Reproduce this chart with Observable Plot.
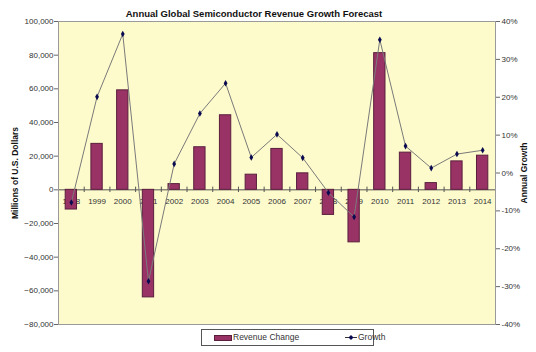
<!DOCTYPE html>
<html>
<head>
<meta charset="utf-8">
<script src="https://cdn.jsdelivr.net/npm/d3@7"></script>
<script src="https://cdn.jsdelivr.net/npm/@observablehq/plot@0.6"></script>
<style>
  html, body { margin: 0; padding: 0; background: #ffffff; }
  #wrap { position: relative; width: 536px; height: 352px; font-family: "Liberation Sans", Arial, sans-serif; }
  #legend { position: absolute; left: 201px; top: 329px; width: 171px; height: 15px; border: 1px solid #555; background: #fff; font-size: 8.5px; color: #333; }
  #legend .sw { position: absolute; left: 12px; top: 5px; width: 16px; height: 4px; background: #993366; border: 1px solid #5a1f3d; }
  #legend .t1 { position: absolute; left: 31px; top: 2px; line-height: 11px; }
  #legend .ln { position: absolute; left: 143px; top: 2px; }
  #legend .t2 { position: absolute; left: 156px; top: 2px; line-height: 11px; }
</style>
</head>
<body>
<div id="wrap"></div>
<script>
const years = [1998, 1999, 2000, 2001, 2002, 2003, 2004, 2005, 2006, 2007, 2008, 2009, 2010, 2011, 2012, 2013, 2014];
const revenueChange = [-11700, 27300, 59100, -63900, 3400, 25300, 44300, 9000, 24300, 9800, -14900, -31200, 81200, 22100, 4000, 16900, 20300];
const growthPct = [-7.8, 20.1, 36.7, -28.6, 2.4, 15.7, 23.7, 4.1, 10.2, 4.0, -5.2, -11.6, 35.2, 7.1, 1.3, 5.0, 6.0];
const leftTicks = [-80000, -60000, -40000, -20000, 0, 20000, 40000, 60000, 80000, 100000];
const rightTicks = [-40, -30, -20, -10, 0, 10, 20, 30, 40];
const titleText = "Annual Global Semiconductor Revenue Growth Forecast";
const leftLabel = "Millions of U.S. Dollars";
const rightLabel = "Annual Growth";

// right axis (-40%..40%) maps onto left axis (-80,000..100,000)
const g2y = g => 10000 + 2250 * g;
const y2g = v => (v - 10000) / 2250;

const data = years.map((year, i) => ({year, change: revenueChange[i], growth: growthPct[i]}));
const bounds = years.slice(0, -1).map(y => y + 0.5);

const plot = Plot.plot({
  width: 536,
  height: 352,
  marginLeft: 58,
  marginRight: 41,
  marginTop: 21,
  marginBottom: 28,
  style: {fontFamily: "'Liberation Sans', Arial, sans-serif", fontSize: "8px", color: "#333", background: "transparent"},
  x: {type: "linear", domain: [1997.5, 2014.5], axis: null},
  y: {domain: [-80000, 100000], axis: null},
  marks: [
    Plot.frame({fill: "#fdfacb", stroke: null}),
    Plot.ruleY([0], {stroke: "#555", strokeWidth: 1}),
    Plot.ruleX(bounds, {x: d => d, y1: -1600, y2: 1600, stroke: "#555"}),
    Plot.text(years, {x: d => d, y: 0, dy: 12, text: d => String(d), fill: "#333", fontSize: 8}),
    Plot.rectY(data, {x1: d => d.year - 0.22, x2: d => d.year + 0.22, y1: 0, y2: "change", fill: "#993366", stroke: "#5a1f3d", strokeWidth: 1}),
    Plot.line(data, {x: "year", y: d => g2y(d.growth), stroke: "#7a7a7a", strokeWidth: 1}),
    Plot.dot(data, {x: "year", y: d => g2y(d.growth), symbol: "diamond", r: 2, fill: "#0a0a50", stroke: "none"}),
    Plot.frame({stroke: "#9a9a9a"}),
    Plot.axisY(leftTicks, {anchor: "left", tickFormat: d3.format(","), tickSize: 4, tickPadding: 1, label: null, stroke: "#666"}),
    Plot.axisY(rightTicks.map(g2y), {anchor: "right", tickFormat: v => Math.round(y2g(v)) + "%", tickSize: 4, tickPadding: 2, label: null, stroke: "#666"}),
    Plot.text([leftLabel], {frameAnchor: "left", dx: -43, rotate: -90, textAnchor: "middle", text: d => d, fontWeight: "bold", fontSize: 8.5, fill: "#111"}),
    Plot.text([rightLabel], {frameAnchor: "right", dx: 29, rotate: -90, textAnchor: "middle", text: d => d, fontWeight: "bold", fontSize: 8.5, fill: "#111"}),
    Plot.text([titleText], {frameAnchor: "top", dx: -23, dy: -11, text: d => d, fontWeight: "bold", fontSize: 9.5, fill: "#111"})
  ]
});

const wrap = document.getElementById("wrap");
wrap.appendChild(plot);

const legend = document.createElement("div");
legend.id = "legend";
legend.innerHTML = '<span class="sw"></span><span class="t1">Revenue Change</span>' +
  '<svg class="ln" width="12" height="11"><line x1="0" y1="5.5" x2="12" y2="5.5" stroke="#333" stroke-width="1"/><path d="M6,3 L8.5,5.5 L6,8 L3.5,5.5 Z" fill="#0a0a50"/></svg>' +
  '<span class="t2">Growth</span>';
wrap.appendChild(legend);
</script>
</body>
</html>
